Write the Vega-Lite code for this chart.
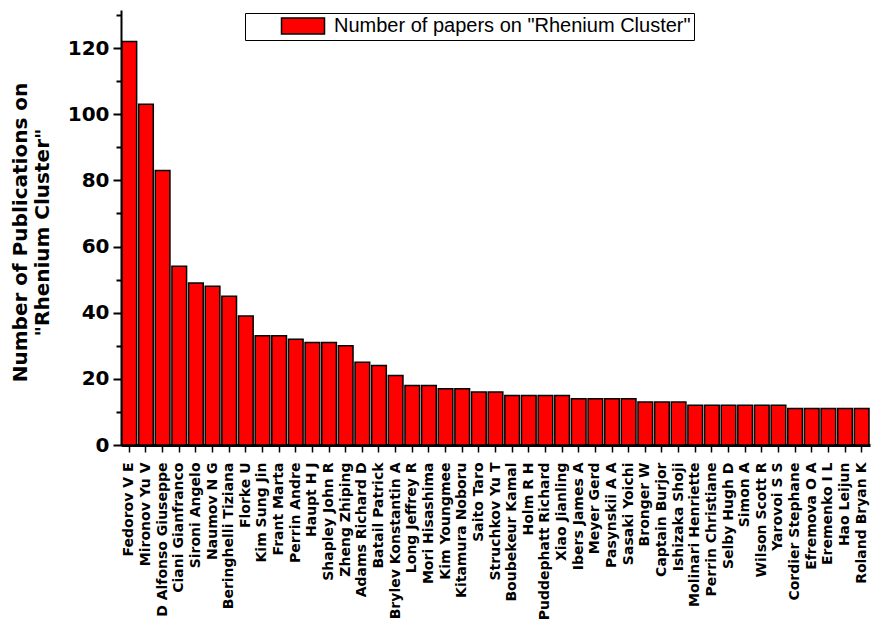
{
  "$schema": "https://vega.github.io/schema/vega-lite/v6.json",
  "width": 749,
  "height": 435,
  "autosize": {"type": "none"},
  "padding": {"left": 121, "top": 10, "right": 5, "bottom": 175},
  "background": "white",
  "config": {"view": {"stroke": null}},
  "data": {"values": [
    {"author": "Fedorov V E", "papers": 122},
    {"author": "Mironov Yu V", "papers": 103},
    {"author": "D Alfonso Giuseppe", "papers": 83},
    {"author": "Ciani Gianfranco", "papers": 54},
    {"author": "Sironi Angelo", "papers": 49},
    {"author": "Naumov N G", "papers": 48},
    {"author": "Beringhelli Tiziana", "papers": 45},
    {"author": "Florke U", "papers": 39},
    {"author": "Kim Sung Jin", "papers": 33},
    {"author": "Frant Marta", "papers": 33},
    {"author": "Perrin Andre", "papers": 32},
    {"author": "Haupt H J", "papers": 31},
    {"author": "Shapley John R", "papers": 31},
    {"author": "Zheng Zhiping", "papers": 30},
    {"author": "Adams Richard D", "papers": 25},
    {"author": "Batail Patrick", "papers": 24},
    {"author": "Brylev Konstantin A", "papers": 21},
    {"author": "Long Jeffrey R", "papers": 18},
    {"author": "Mori Hisashima", "papers": 18},
    {"author": "Kim Youngmee", "papers": 17},
    {"author": "Kitamura Noboru", "papers": 17},
    {"author": "Saito Taro", "papers": 16},
    {"author": "Struchkov Yu T", "papers": 16},
    {"author": "Boubekeur Kamal", "papers": 15},
    {"author": "Holm R H", "papers": 15},
    {"author": "Puddephatt Richard", "papers": 15},
    {"author": "Xiao Jianling", "papers": 15},
    {"author": "Ibers James A", "papers": 14},
    {"author": "Meyer Gerd", "papers": 14},
    {"author": "Pasynskii A A", "papers": 14},
    {"author": "Sasaki Yoichi", "papers": 14},
    {"author": "Bronger W", "papers": 13},
    {"author": "Captain Burjor", "papers": 13},
    {"author": "Ishizaka Shoji", "papers": 13},
    {"author": "Molinari Henriette", "papers": 12},
    {"author": "Perrin Christiane", "papers": 12},
    {"author": "Selby Hugh D", "papers": 12},
    {"author": "Simon A", "papers": 12},
    {"author": "Wilson Scott R", "papers": 12},
    {"author": "Yarovoi S S", "papers": 12},
    {"author": "Cordier Stephane", "papers": 11},
    {"author": "Efremova O A", "papers": 11},
    {"author": "Eremenko I L", "papers": 11},
    {"author": "Hao Leijun", "papers": 11},
    {"author": "Roland Bryan K", "papers": 11}
  ]},
  "mark": {"type": "bar", "stroke": "black", "strokeWidth": 1.5},
  "encoding": {
    "x": {
      "field": "author", "type": "nominal", "sort": null,
      "scale": {"paddingInner": 0.12, "paddingOuter": 0.06},
      "axis": {
        "title": null, "labelAngle": -90, "labelAlign": "right", "labelBaseline": "middle",
        "labelFont": "DejaVu Sans", "labelFontWeight": "bold", "labelFontSize": 14,
        "labelColor": "black", "labelPadding": 10, "labelLimit": 250,
        "domainColor": "black", "domainWidth": 3, "tickColor": "black", "tickWidth": 1.5, "tickSize": 7
      }
    },
    "y": {
      "field": "papers", "type": "quantitative",
      "scale": {"domain": [0, 131.5], "nice": false},
      "axis": {
        "values": [0, 10, 20, 30, 40, 50, 60, 70, 80, 90, 100, 110, 120, 130],
        "labelExpr": "datum.value % 20 === 0 ? datum.label : ''",
        "title": ["Number of Publications on", "\"Rhenium Cluster\""],
        "titleFont": "DejaVu Sans", "titleFontWeight": "bold", "titleFontSize": 20,
        "titleColor": "black", "titleLineHeight": 22,
        "titleX": -111, "titleY": 222, "titleBaseline": "top", "titleAlign": "center", "titleAngle": -90,
        "labelFont": "DejaVu Sans", "labelFontWeight": "bold", "labelFontSize": 20,
        "labelColor": "black", "labelPadding": 4,
        "grid": false, "domainColor": "black", "domainWidth": 2,
        "tickColor": "black", "tickWidth": 2,
        "tickSize": {"condition": {"test": "datum.value % 20 === 0", "value": 8}, "value": 5}
      }
    },
    "color": {
      "datum": "Number of papers on \"Rhenium Cluster\"",
      "type": "nominal",
      "scale": {"range": ["#ff0000"]},
      "legend": {
        "title": null, "orient": "none", "legendX": 124, "legendY": 3,
        "strokeColor": "black", "padding": 3, "fillColor": "white",
        "symbolType": "M-2.6875,-1H2.6875V1H-2.6875Z", "symbolSize": 256,
        "symbolStrokeColor": "black", "symbolStrokeWidth": 1.5, "symbolFillColor": "#ff0000",
        "symbolOffset": 45, "labelOffset": 21,
        "labelExpr": "datum.label + '\u00a0\u00a0\u00a0\u00a0\u00a0\u00a0\u00a0\u00a0\u00a0\u00a0\u00a0\u00a0'",
        "labelFont": "Liberation Sans", "labelFontSize": 20, "labelColor": "black", "labelLimit": 600
      }
    }
  }
}
